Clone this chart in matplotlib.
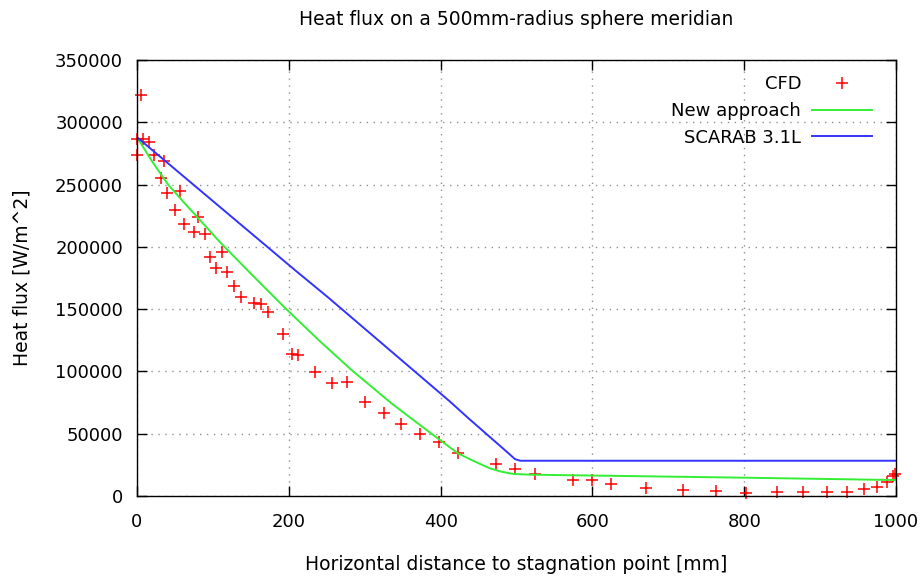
import matplotlib
matplotlib.use("Agg")
import matplotlib.pyplot as plt

plt.rcParams['font.family'] = ['DejaVu Sans']

title = "Heat flux on a 500mm-radius sphere meridian"
xlabel = "Horizontal distance to stagnation point [mm]"
ylabel = "Heat flux [W/m^2]"

cfd_x = [0, 0, 5, 8, 16, 22, 31, 35, 39, 50, 57, 62, 75, 81, 90, 96, 104, 112,
         119, 128, 137, 154, 163, 173, 192, 204, 212, 234, 257, 277, 300, 325,
         348, 373, 398, 423, 473, 498, 524, 574, 599, 624, 671, 719, 763, 803,
         843, 877, 909, 935, 958, 975, 988, 996, 999]
cfd_y = [286500, 273700, 322000, 286500, 284300, 273700, 255000, 268900, 243000,
         229500, 244800, 218300, 211600, 223700, 210000, 191500, 182700, 196100,
         179500, 168500, 160000, 154600, 154100, 147400, 129800, 114000, 113200,
         99800, 91000, 91700, 75700, 66900, 57500, 49800, 43100, 34800, 25500,
         21700, 17700, 12800, 12800, 9400, 6200, 4800, 4000, 2700, 3000, 3000,
         3000, 3000, 5400, 7500, 11500, 16000, 17700]

new_x = [0, 20, 41, 62, 81, 109, 150, 195, 240, 283, 335, 388, 423, 445, 465,
         480, 496, 520, 544, 800, 1000]
new_y = [288000, 268500, 250000, 235500, 222900, 204000, 178500, 151000, 124800,
         101000, 74500, 50000, 34200, 27700, 22200, 19500, 17700, 17100, 16900,
         14700, 12800]

scarab_x = [0, 208, 252, 412, 436.5, 490, 498, 505, 1000]
scarab_y = [288000, 181400, 159300, 76000, 62500, 34000, 29600, 28300, 28300]

xticks = [0, 200, 400, 600, 800, 1000]
yticks = [0, 50000, 100000, 150000, 200000, 250000, 300000, 350000]

fig = plt.figure(figsize=(9.24, 5.76), dpi=100)
ax = fig.add_axes([137/924, 1-496/576, (896-137)/924, (496-60)/576])

fs = 13
fs_lab = 13.5
ax.plot(cfd_x, cfd_y, linestyle='none', marker='+', color='#ff0000',
        markersize=9, markeredgewidth=1.1, clip_on=False, label='CFD', zorder=2)
ax.plot(new_x, new_y, color='#33ee33', lw=1.4, label='New approach', zorder=2,
        solid_joinstyle='round')
ax.plot(scarab_x, scarab_y, color='#3333ff', lw=1.4, label='SCARAB 3.1L', zorder=2,
        solid_joinstyle='round')

ax.set_xlim(0, 1000)
ax.set_ylim(0, 350000)
ax.set_xticks(xticks)
ax.set_yticks(yticks)
ax.set_xticklabels([str(v) for v in xticks])
ax.set_yticklabels([str(v) for v in yticks])
ax.tick_params(direction='in', length=7, width=1, top=True, right=True,
               labelsize=fs, colors='black')
ax.tick_params(axis='x', pad=12.5)
ax.tick_params(axis='y', pad=10)
ax.grid(True, color='#909090', linestyle=(0, (1, 4)), linewidth=1)
for s in ax.spines.values():
    s.set_linewidth(1.0)
    s.set_color('black')

ax.set_title(title, fontsize=fs_lab, pad=25.5)
ax.set_xlabel(xlabel, fontsize=fs_lab, labelpad=17)
ax.set_ylabel(ylabel, fontsize=fs_lab, labelpad=17)

leg = ax.legend(loc='upper right', bbox_to_anchor=(0.975, 0.977), frameon=False,
                markerfirst=False, fontsize=fs, handlelength=3.3,
                handletextpad=0.6, labelspacing=0.48, borderaxespad=0,
                borderpad=0.3)

fig.savefig('out.png', dpi=100)
